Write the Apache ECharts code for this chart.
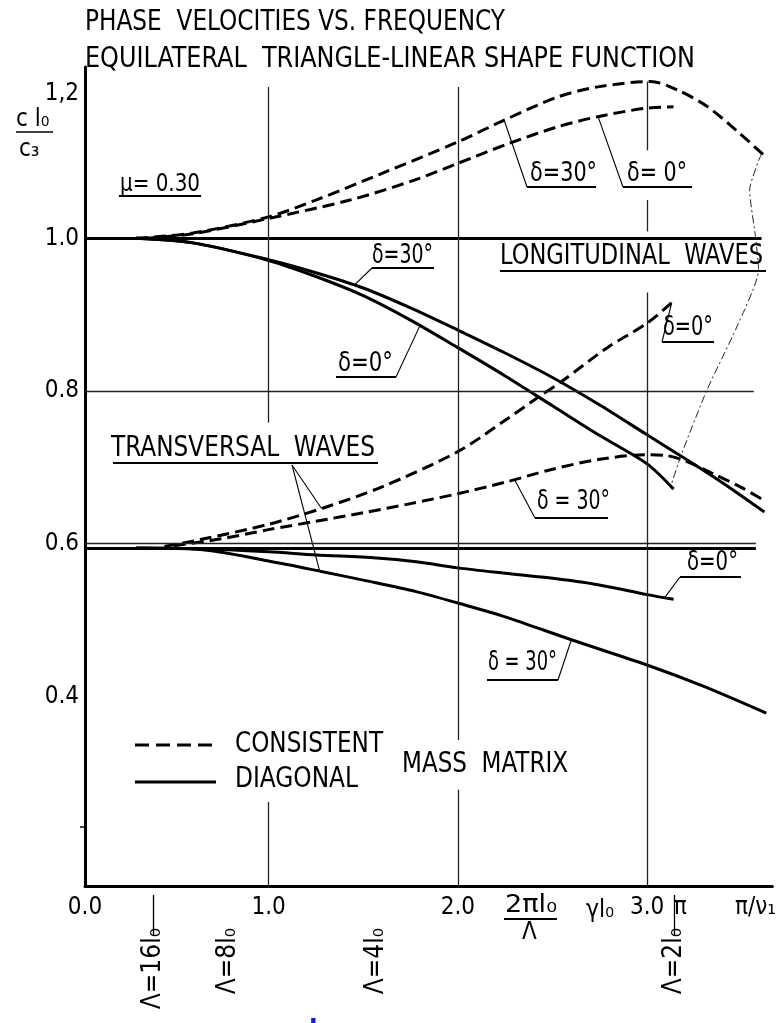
<!DOCTYPE html>
<html><head><meta charset="utf-8">
<script src="https://cdn.jsdelivr.net/npm/echarts@6/dist/echarts.min.js"></script>
<style>html,body{margin:0;padding:0;background:#fff}#c{width:779px;height:1023px}</style>
</head><body><div id="c"></div>
<script>
// ---------------- data ----------------
const longConsistent30 = [[0.30,1.000],[0.60,1.007],[1.00,1.028],[1.25,1.050],[1.60,1.085],[2.00,1.126],[2.25,1.155],[2.53,1.185],[2.74,1.198],[3.02,1.205],[3.16,1.194],[3.32,1.172],[3.49,1.137],[3.62,1.108]];
const longConsistent0  = [[0.35,1.000],[0.60,1.006],[1.00,1.026],[1.43,1.050],[1.77,1.076],[2.00,1.098],[2.27,1.124],[2.53,1.146],[2.74,1.159],[2.99,1.170],[3.14,1.172]];
const longDiagonal30   = [[0.30,1.000],[0.60,0.994],[1.00,0.972],[1.25,0.955],[1.50,0.935],[1.75,0.909],[2.00,0.880],[2.25,0.850],[2.50,0.818],[2.75,0.782],[3.00,0.743],[3.20,0.712],[3.40,0.680],[3.62,0.642]];
const longDiagonal0    = [[0.30,1.000],[0.60,0.994],[1.00,0.971],[1.25,0.950],[1.50,0.925],[1.75,0.893],[2.00,0.857],[2.25,0.820],[2.50,0.781],[2.75,0.742],[3.00,0.705],[3.14,0.672]];
const transConsistent0  = [[0.45,0.597],[0.64,0.606],[1.00,0.626],[1.285,0.647],[1.60,0.675],[2.00,0.721],[2.25,0.762],[2.43,0.793],[2.55,0.813],[2.79,0.857],[3.00,0.889],[3.14,0.918]];
const transConsistent30 = [[0.50,0.598],[0.75,0.607],[1.00,0.619],[1.25,0.630],[1.50,0.641],[1.75,0.653],[2.00,0.666],[2.25,0.681],[2.50,0.698],[2.75,0.711],[3.00,0.717],[3.10,0.716],[3.20,0.709],[3.35,0.692],[3.50,0.674],[3.62,0.657]];
const transDiagonal0    = [[0.30,0.595],[0.64,0.594],[1.00,0.590],[1.25,0.586],[1.57,0.582],[1.78,0.577],[2.00,0.569],[2.25,0.562],[2.48,0.556],[2.74,0.547],[3.00,0.534],[3.14,0.528]];
const transDiagonal30   = [[0.30,0.595],[0.64,0.593],[1.00,0.578],[1.285,0.564],[1.50,0.553],[1.78,0.538],[2.00,0.523],[2.25,0.505],[2.60,0.475],[3.00,0.442],[3.30,0.414],[3.63,0.379]];
const cutoffLocus = [[3.605,1.111],[3.542,1.063],[3.573,1.002],[3.589,0.959],[3.474,0.884],[3.317,0.802],[3.181,0.717],[3.128,0.678]];

const xTickValues = [0.03, 1, 2, 3, 3.175, 3.573];
const xTickLabels = ['0.0','1.0','2.0','3.0','π','π/ν₁'];
const lambdaValues = [0.3927, 0.7854, 1.5708, 3.1416];
const lambdaLabels = ['Λ=16l₀','Λ=8l₀','Λ=4l₀','Λ=2l₀'];
const lambdaTickValues = [0.3927, 3.1416];
const yTickValues = [0.4, 0.6, 0.8, 1.0, 1.2];
const yTickLabels = ['0.4','0.6','0.8','1.0','1,2'];
const yMinorTicks = [0.23];
const legendNames = ['CONSISTENT','DIAGONAL'];

const X_MIN = 0.03, X_MAX = 3.662, Y_MIN = 0.153, Y_MAX = 1.224;
// reference lines: [y, xEnd]
const limitLines = [[1.0, 3.605],[0.595, 3.575]];
const hGridLines = [[0.8, 3.564],[0.601, 3.575]];
// vertical grid segments: [x, yTop, yBottom]
const vGridSegments = [[1,1.198,0.759],[1,0.263,Y_MIN],[2,1.198,0.344],[2,0.279,Y_MIN],[3,1.205,1.115],[3,1.050,1.009],[3,0.929,Y_MIN]];

// ---------------- chart ----------------
const FONT = "'Liberation Sans Narrow','DejaVu Sans Condensed','Liberation Sans',sans-serif";
const chart = echarts.init(document.getElementById('c'), null, {renderer:'canvas'});

function labelFor(vals, labs, v){
  let best = 0, d = 1e9;
  vals.forEach((x,i)=>{ if(Math.abs(x-v)<d){d=Math.abs(x-v);best=i;} });
  return labs[best];
}

const DASH = {color:'#000', width:3, type:[12,6]};
const SOLID = {color:'#000', width:3, type:'solid'};
function lineSeries(name, data, style){
  return {type:'line', name, data, xAxisIndex:0, yAxisIndex:0, smooth:0.3, symbol:'none',
          lineStyle:style, itemStyle:{color:'#000'}, silent:true, animation:false, z:3};
}

const markData = [];
limitLines.forEach(([y,xe])=>markData.push([{coord:[X_MIN,y], lineStyle:{width:3,color:'#000',type:'solid'}},{coord:[xe,y]}]));
hGridLines.forEach(([y,xe])=>markData.push([{coord:[X_MIN,y], lineStyle:{width:1.3,color:'#222',type:'solid'}},{coord:[xe,y]}]));
vGridSegments.forEach(([x,y1,y2])=>markData.push([{coord:[x,y1], lineStyle:{width:1.3,color:'#222',type:'solid'}},{coord:[x,y2]}]));

const option = {
  backgroundColor:'#fff',
  animation:false,
  textStyle:{fontFamily:FONT, color:'#000'},
  grid:{left:85, right:0, top:67, bottom:137, containLabel:false},
  xAxis:[{
    type:'value', min:X_MIN, max:X_MAX, position:'bottom',
    axisLine:{show:true, onZero:false, lineStyle:{color:'#000', width:3}},
    axisTick:{show:false}, splitLine:{show:false},
    axisLabel:{customValues:xTickValues, formatter:v=>labelFor(xTickValues,xTickLabels,v),
      fontFamily:FONT, fontSize:24, color:'#000', margin:10, showMinLabel:true, showMaxLabel:true}
  },{
    type:'value', min:X_MIN, max:X_MAX, position:'bottom', offset:9,
    axisLine:{show:false},
    axisTick:{show:true, customValues:lambdaTickValues, length:40, lineStyle:{color:'#000', width:1.3}},
    splitLine:{show:false},
    axisLabel:{customValues:lambdaValues, formatter:v=>labelFor(lambdaValues,lambdaLabels,v),
      rotate:90, fontFamily:FONT, fontSize:26, color:'#000', margin:33}
  }],
  yAxis:{
    type:'value', min:Y_MIN, max:Y_MAX,
    axisLine:{show:true, onZero:false, lineStyle:{color:'#000', width:3}},
    axisTick:{show:true, customValues:yMinorTicks, length:5, lineStyle:{color:'#000', width:1.5}},
    splitLine:{show:false},
    axisLabel:{customValues:yTickValues,
      formatter:v=>{const t=labelFor(yTickValues,yTickLabels,v); return v>1.1?'{s|'+t+'}':t;},
      rich:{s:{fontFamily:FONT, fontSize:24, color:'#000', padding:[16,0,0,0]}},
      fontFamily:FONT, fontSize:24, color:'#000', margin:6}
  },
  series:[
    {type:'line', name:'refs', data:[], symbol:'none', silent:true,
     markLine:{silent:true, symbol:'none', label:{show:false}, animation:false, data:markData}},
    lineSeries(legendNames[0], longConsistent30, DASH),
    lineSeries(legendNames[0], longConsistent0, DASH),
    lineSeries(legendNames[1], longDiagonal30, SOLID),
    lineSeries(legendNames[1], longDiagonal0, SOLID),
    lineSeries(legendNames[0], transConsistent0, DASH),
    lineSeries(legendNames[0], transConsistent30, DASH),
    lineSeries(legendNames[1], transDiagonal0, SOLID),
    lineSeries(legendNames[1], transDiagonal30, SOLID),
    {type:'line', name:'locus', data:cutoffLocus, symbol:'none', silent:true, smooth:0.2,
     lineStyle:{color:'#222', width:1, type:[8,3,2,3]}}
  ]
};
chart.setOption(option);

// ---------------- annotations ----------------
function yAt(series, x){
  for(let i=0;i<series.length-1;i++){
    const [x0,y0]=series[i],[x1,y1]=series[i+1];
    if(x>=x0 && x<=x1) return y0+(y1-y0)*(x-x0)/(x1-x0);
  }
  return series[series.length-1][1];
}
function px(series, x){ return chart.convertToPixel({gridIndex:0},[x, yAt(series,x)]); }

const mctx = document.createElement('canvas').getContext('2d');
function measure(t, font){ mctx.font = font; return mctx.measureText(t).width; }

const G = [];
// text at left x, vertical centre y; optional target width -> horizontal scale
function txt(t, x, y, size, width, fill, weight){
  const font = (weight?weight+' ':'') + size+'px '+FONT;
  let sx = 1;
  if(width){ sx = width / measure(t, font); }
  G.push({type:'text', silent:true, x, y, scaleX:sx, scaleY:1,
    style:{text:t, x:0, y:0, fill:fill||'#000', font, verticalAlign:'middle', align:'left'}});
}
function ln(x1,y1,x2,y2,w,dash){ G.push({type:'line', silent:true, shape:{x1,y1,x2,y2}, style:{stroke:'#000', lineWidth:w||1.3, lineDash:dash||null}}); }
function pl(points,w){ G.push({type:'polyline', silent:true, shape:{points}, style:{stroke:'#000', lineWidth:w||1.2, fill:null}}); }

// title
txt('PHASE  VELOCITIES VS. FREQUENCY', 85, 23, 28, 420);
txt('EQUILATERAL  TRIANGLE-LINEAR SHAPE FUNCTION', 85, 60, 28, 610);
// y axis name
txt('c l₀', 16, 120, 24);
ln(16,132,53,132,1.5);
txt('c₃', 19, 150, 24);
// mu
txt('μ= 0.30', 120, 184, 25, 80);
ln(119,196,201,196,1.8);

// labelled annotations
const notes = [
  {t:'δ=30°', w:67, tx:530, ty:174, ul:[527,596,187], from:[527,187], s:longConsistent30, ax:2.245},
  {t:'δ= 0°', w:60, tx:627, ty:174, ul:[623,692,187], from:[623,187], s:longConsistent0, ax:2.741},
  {t:'δ=30°', w:61, tx:372, ty:256, ul:[372,434,268], from:[372,268], s:longDiagonal30, ax:1.453},
  {t:'δ=0°',  w:55, tx:338, ty:364, ul:[336,396,377], from:[396,377], s:longDiagonal0, ax:1.80},
  {t:'δ=0°',  w:50, tx:663, ty:328, ul:[662,714,342], from:[662,342], s:transConsistent0, ax:3.13},
  {t:'δ = 30°', w:73, tx:537, ty:502, ul:[535,608,518], from:[535,518], s:transConsistent30, ax:2.30},
  {t:'δ=0°',  w:51, tx:687, ty:563, ul:[680,741,577], from:[680,577], s:transDiagonal0, ax:3.093},
  {t:'δ = 30°', w:69, tx:488, ty:663, ul:[487,558,680], from:[558,680], s:transDiagonal30, ax:2.60}
];
notes.forEach(n=>{
  txt(n.t, n.tx, n.ty, 26, n.w);
  ln(n.ul[0], n.ul[2], n.ul[1], n.ul[2], 1.8);
  pl([n.from, px(n.s, n.ax)], 1.1);
});

txt('LONGITUDINAL  WAVES', 500, 257, 28, 263);
ln(500,271,766,271,1.8);
txt('TRANSVERSAL  WAVES', 111, 449, 28, 264);
ln(113,463,378,463,1.8);
pl([[292,465], px(transConsistent0,1.28)],1.1);
pl([[292,465], px(transDiagonal30,1.27)],1.1);

// legend (mass matrix type)
ln(135,745,216,745,3,[14,7]);
txt(legendNames[0], 235, 745, 28, 148);
ln(135,782,216,782,3);
txt(legendNames[1], 235, 780, 28, 123);
txt('MASS  MATRIX', 402, 765, 28, 166);

// frequency axis name
txt('2πl₀', 505, 906, 24, 52);
ln(504,919,557,919,2.2);
txt('Λ', 522, 933, 24);
txt('γl₀', 586, 910, 25, 28);

// stray blue mark at bottom
txt('I', 309, 1031, 26, null, '#1a1ae0', 'bold');

chart.setOption({graphic:G});
</script></body></html>
